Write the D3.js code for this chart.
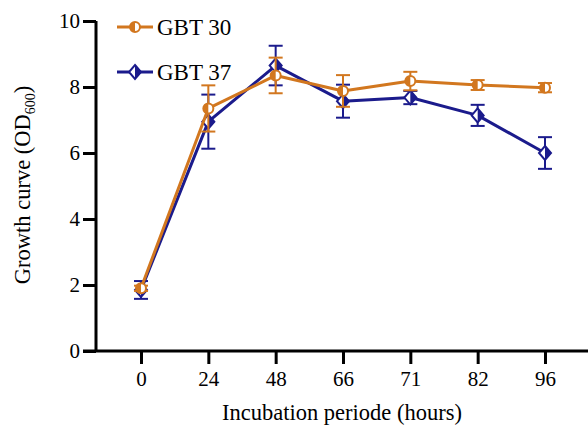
<!DOCTYPE html>
<html>
<head>
<meta charset="utf-8">
<script src="https://cdn.jsdelivr.net/npm/d3@7"></script>
<style>
  body { margin: 0; background: #fff; }
</style>
</head>
<body>
<svg id="sg"></svg>
<script>
// incubation time points (categorical axis)
const hours = ["0", "24", "48", "66", "71", "82", "96"];
const gbt30 = [1.9, 7.35, 8.35, 7.88, 8.18, 8.06, 7.98];
const gbt30Err = [0.08, 0.7, 0.54, 0.48, 0.28, 0.15, 0.14];
const gbt37 = [1.85, 6.95, 8.65, 7.57, 7.68, 7.14, 6.0];
const gbt37Err = [0.27, 0.82, 0.6, 0.5, 0.2, 0.32, 0.48];
const yTicks = [0, 2, 4, 6, 8, 10];

let svgWidth = 588,
  svgHeight = 429;
let margin = { top: 21, left: 96 };
let orange = "#d2771f",
  blue = "#1b1b8c";
let font = "'Liberation Serif', 'DejaVu Serif', serif";

let svg = d3.select("#sg").attr("width", svgWidth).attr("height", svgHeight);

let x = d3.scalePoint().domain(hours).range([141, 545]);
let y = d3.scaleLinear().domain([0, 10]).range([351, 21]);

// y axis
let yAxis = d3.axisLeft(y).tickValues(yTicks).tickSize(13).tickPadding(3);
let gy = svg.append("g").attr("transform", "translate(" + margin.left + ",0)").call(yAxis);
gy.attr("font-family", font);
gy.select(".domain").attr("d", "M0," + y(10) + "V" + y(0)).attr("stroke-width", 3);
gy.selectAll(".tick line").attr("stroke-width", 3);
gy.selectAll(".tick text").style("font-size", "21px").style("font-family", font);

// x axis
let xAxis = d3.axisBottom(x).tickSize(13).tickPadding(7);
let gx = svg.append("g").attr("transform", "translate(0," + y(0) + ")").call(xAxis);
gx.attr("font-family", font);
gx.select(".domain").attr("d", "M83,0H588").attr("stroke-width", 3);
gx.selectAll(".tick line").attr("stroke-width", 3);
gx.selectAll(".tick text").style("font-size", "21px").style("font-family", font);

// axis titles
svg.append("text")
  .attr("x", 342)
  .attr("y", 420)
  .attr("text-anchor", "middle")
  .style("font-size", "22.5px")
  .style("font-family", font)
  .text("Incubation periode (hours)");

let yl = svg.append("text")
  .attr("transform", "translate(30,185) rotate(-90)")
  .attr("text-anchor", "middle")
  .style("font-size", "22.5px")
  .style("font-family", font);
yl.append("tspan").text("Growth curve (OD");
yl.append("tspan").attr("dy", 5).style("font-size", "14px").text("600");
yl.append("tspan").attr("dy", -5).text(")");

function marker(g, shape, color) {
  if (shape === "circle") {
    g.append("circle").attr("r", 5).attr("fill", "#fff").attr("stroke", color).attr("stroke-width", 2);
    g.append("path").attr("d", "M0,-5A5,5 0 0 0 0,5Z").attr("fill", color);
  } else {
    g.append("path").attr("d", "M0,-7L6,0L0,7L-6,0Z").attr("fill", "#fff").attr("stroke", color).attr("stroke-width", 2);
    g.append("path").attr("d", "M0,-7L6,0L0,7Z").attr("fill", color);
  }
}

function drawSeries(vals, errs, color, shape) {
  let g = svg.append("g");
  let line = d3.line()
    .x(function(d, i) { return x(hours[i]); })
    .y(function(d) { return y(d); });
  g.append("path")
    .datum(vals)
    .attr("fill", "none")
    .attr("stroke", color)
    .attr("stroke-width", 3)
    .attr("stroke-linejoin", "round")
    .attr("d", line);
  vals.forEach(function(v, i) {
    let cx = x(hours[i]);
    let e = g.append("g").attr("stroke", color).attr("stroke-width", 2);
    e.append("line").attr("x1", cx).attr("x2", cx).attr("y1", y(v + errs[i])).attr("y2", y(v - errs[i]));
    e.append("line").attr("x1", cx - 7).attr("x2", cx + 7).attr("y1", y(v + errs[i])).attr("y2", y(v + errs[i]));
    e.append("line").attr("x1", cx - 7).attr("x2", cx + 7).attr("y1", y(v - errs[i])).attr("y2", y(v - errs[i]));
    marker(g.append("g").attr("transform", "translate(" + cx + "," + y(v) + ")"), shape, color);
  });
}

drawSeries(gbt37, gbt37Err, blue, "diamond");
drawSeries(gbt30, gbt30Err, orange, "circle");

// legend
let legend = [
  { name: "GBT 30", color: orange, shape: "circle" },
  { name: "GBT 37", color: blue, shape: "diamond" }
];
legend.forEach(function(d, i) {
  let g = svg.append("g").attr("transform", "translate(117," + (27 + i * 45) + ")");
  g.append("line").attr("x1", 0).attr("x2", 36).attr("stroke", d.color).attr("stroke-width", 3);
  marker(g.append("g").attr("transform", "translate(18,0)"), d.shape, d.color);
  g.append("text").attr("x", 40).attr("y", 8)
    .style("font-size", "23px").style("font-family", font).text(d.name);
});
</script>
</body>
</html>
